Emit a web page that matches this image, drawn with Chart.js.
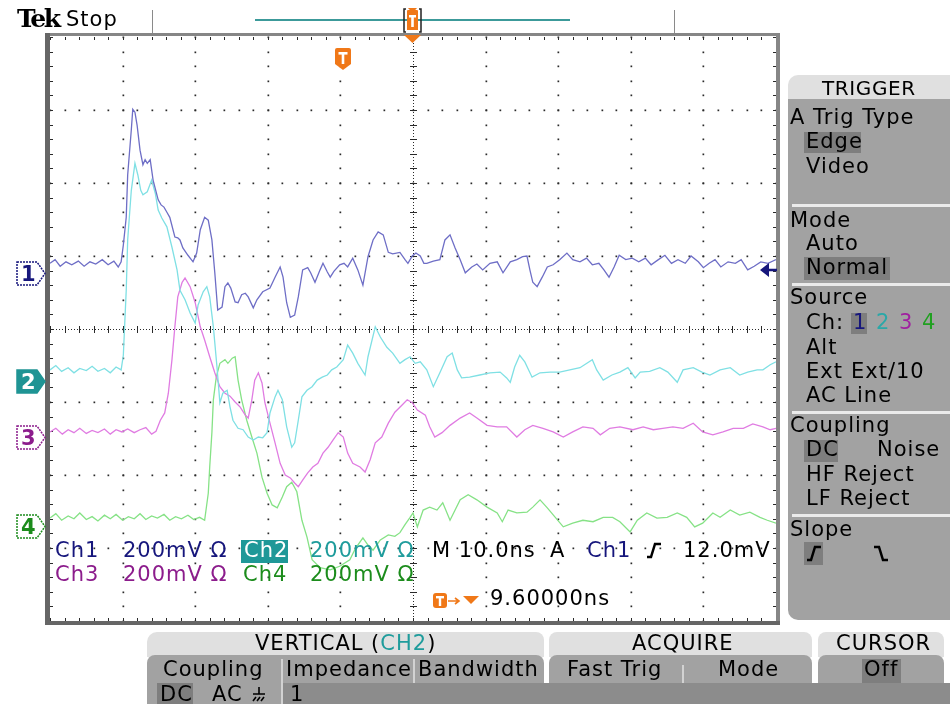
<!DOCTYPE html>
<html>
<head>
<meta charset="utf-8">
<script src="https://cdn.jsdelivr.net/npm/chart.js@4"></script>
<style>
html, body { margin: 0; padding: 0; background: #fff; }
#scope { position: relative; width: 950px; height: 704px; overflow: hidden; background: #fff; font-family: "DejaVu Sans", sans-serif; }
#scope canvas { position: absolute; left: 0; top: 0; }
.t { position: absolute; font-size: 21px; line-height: 21px; letter-spacing: 1px; white-space: pre; color: #000; }
.blk { position: absolute; }
.hl { position: absolute; background: #7e7e7e; }
.sep { position: absolute; background: #ebebeb; height: 3px; left: 792px; width: 158px; }
.vsep { position: absolute; background: #d2d2d2; width: 2px; }
.c1 { color: #16167c; } .c2 { color: #1f9c9c; } .c3 { color: #8c1c8c; } .c4 { color: #1c8c1c; }
svg { position: absolute; overflow: visible; }
</style>
</head>
<body>
<div id="scope">
<canvas id="scope-canvas" width="950" height="704"></canvas>

<!-- top status bar -->
<div class="t" style="left:17px;top:6px;font-family:'DejaVu Serif',serif;font-weight:bold;font-size:25px;line-height:25px;letter-spacing:-2.5px;">Tek</div>
<div class="t" style="left:66px;top:9px;">Stop</div>
<div class="blk" style="left:152px;top:10px;width:1px;height:23px;background:#8a8a8a;"></div>
<div class="blk" style="left:674px;top:10px;width:1px;height:23px;background:#8a8a8a;"></div>
<div class="blk" style="left:255px;top:19px;width:315px;height:2px;background:#3c9a9a;"></div>
<svg style="left:403px;top:8px;" width="19" height="25">
  <path d="M3,1 H1 V24 H3 M16,1 H18 V24 H16" fill="none" stroke="#222" stroke-width="1.5"/>
  <path d="M4,3 Q4,2 5,2 H14 Q15,2 15,3 V22 H4 Z" fill="#f07818"/>
  <path d="M5,0 H14 L9.5,5 Z" fill="#f07818"/>
  <rect x="6" y="7" width="7" height="2.5" fill="#fff"/><rect x="8.2" y="7" width="2.6" height="12" fill="#fff"/>
</svg>
<svg style="left:404px;top:35px;" width="17" height="9"><path d="M0,0 H17 L8.5,8 Z" fill="#f07818"/></svg>
<svg style="left:334px;top:47px;" width="18" height="24">
  <path d="M1,3 Q1,1 3,1 H15 Q17,1 17,3 V17 L9,23 L1,17 Z" fill="#f07818"/>
  <rect x="4.5" y="5" width="9" height="2.6" fill="#fff"/><rect x="7.7" y="5" width="2.6" height="12" fill="#fff"/>
</svg>

<!-- channel ground markers -->
<svg style="left:16px;top:261px;" width="32" height="26"><path d="M1,1 H21 L29,12.5 L21,24 H1 Z" fill="#fff" stroke="#16167c" stroke-width="1.5" stroke-dasharray="2 1"/></svg>
<div class="t c1" style="left:21px;top:264px;font-weight:bold;letter-spacing:0;">1</div>
<svg style="left:16px;top:369px;" width="32" height="26"><path d="M1,1 H21 L29,12.5 L21,24 H1 Z" fill="#1f9494" stroke="#1f9494" stroke-width="1.5"/></svg>
<div class="t" style="left:21px;top:372px;font-weight:bold;letter-spacing:0;color:#fff;">2</div>
<svg style="left:16px;top:425px;" width="32" height="26"><path d="M1,1 H21 L29,12.5 L21,24 H1 Z" fill="#fff" stroke="#8c1c8c" stroke-width="1.5" stroke-dasharray="2 1"/></svg>
<div class="t c3" style="left:21px;top:428px;font-weight:bold;letter-spacing:0;">3</div>
<svg style="left:16px;top:514px;" width="32" height="26"><path d="M1,1 H21 L29,12.5 L21,24 H1 Z" fill="#fff" stroke="#1c8c1c" stroke-width="1.5" stroke-dasharray="2 1"/></svg>
<div class="t c4" style="left:21px;top:517px;font-weight:bold;letter-spacing:0;">4</div>

<!-- trigger level arrow -->
<svg style="left:760px;top:263px;" width="17" height="14"><path d="M0,7 L9,0 L9,14 Z M9,5.8 H17 V8.2 H9 Z" fill="#16167c"/></svg>

<!-- readouts inside the graticule -->
<div class="t c1" style="left:55px;top:540px;">Ch1</div>
<div class="t c1" style="left:123px;top:540px;">200mV Ω</div>
<div class="blk" style="left:241px;top:540px;width:47px;height:23px;background:#1f9898;"></div>
<div class="t" style="left:244px;top:540px;color:#fff;">Ch2</div>
<div class="t c2" style="left:310px;top:540px;">200mV Ω</div>
<div class="t" style="left:432px;top:540px;">M 10.0ns</div>
<div class="t" style="left:550px;top:540px;">A</div>
<div class="t c1" style="left:587px;top:540px;">Ch1</div>
<svg style="left:646px;top:542px;" width="16" height="16"><path d="M1,15 H5 L9,2 H15" fill="none" stroke="#000" stroke-width="2.5"/></svg>
<div class="t" style="left:683px;top:540px;">12.0mV</div>
<div class="t c3" style="left:55px;top:564px;">Ch3</div>
<div class="t c3" style="left:123px;top:564px;">200mV Ω</div>
<div class="t c4" style="left:243px;top:564px;">Ch4</div>
<div class="t c4" style="left:310px;top:564px;">200mV Ω</div>
<svg style="left:433px;top:593px;" width="48" height="16">
  <rect x="0" y="0" width="14" height="15" rx="3" fill="#f07818"/>
  <rect x="3" y="3" width="8" height="2.4" fill="#fff"/><rect x="5.8" y="3" width="2.4" height="10" fill="#fff"/>
  <path d="M15,8 H26 M22,5 L26,8 L22,11" fill="none" stroke="#f07818" stroke-width="1.6"/>
  <path d="M30,3 H46 L38,11 Z" fill="#f07818"/>
</svg>
<div class="t" style="left:490px;top:588px;">9.60000ns</div>

<!-- trigger side menu -->
<div class="blk" style="left:788px;top:75px;width:162px;height:24px;background:#e0e0e0;border-top-left-radius:10px;"></div>
<div class="blk" style="left:788px;top:99px;width:162px;height:521px;background:#a2a2a2;border-bottom-left-radius:10px;"></div>
<div class="sep" style="top:204px;"></div>
<div class="sep" style="top:283px;"></div>
<div class="sep" style="top:411px;"></div>
<div class="sep" style="top:514px;"></div>
<div class="t" style="left:822px;top:78px;font-size:20px;line-height:20px;letter-spacing:0.6px;">TRIGGER</div>
<div class="t" style="left:790px;top:107px;">A Trig Type</div>
<div class="hl" style="left:804px;top:132px;width:57px;height:21px;"></div>
<div class="t" style="left:806px;top:131px;">Edge</div>
<div class="t" style="left:806px;top:156px;">Video</div>
<div class="t" style="left:790px;top:210px;">Mode</div>
<div class="t" style="left:806px;top:233px;">Auto</div>
<div class="hl" style="left:804px;top:257px;width:86px;height:23px;"></div>
<div class="t" style="left:806px;top:257px;">Normal</div>
<div class="t" style="left:790px;top:287px;">Source</div>
<div class="t" style="left:806px;top:312px;">Ch:</div>
<div class="hl" style="left:851px;top:313px;width:16px;height:21px;"></div>
<div class="t c1" style="left:853px;top:312px;">1</div>
<div class="t" style="left:876px;top:312px;color:#2aa8a8;">2</div>
<div class="t" style="left:899px;top:312px;color:#a020a0;">3</div>
<div class="t" style="left:922px;top:312px;color:#20a020;">4</div>
<div class="t" style="left:806px;top:337px;">Alt</div>
<div class="t" style="left:806px;top:361px;">Ext</div>
<div class="t" style="left:851px;top:361px;">Ext/10</div>
<div class="t" style="left:806px;top:385px;">AC Line</div>
<div class="t" style="left:790px;top:415px;">Coupling</div>
<div class="hl" style="left:804px;top:440px;width:34px;height:22px;"></div>
<div class="t" style="left:806px;top:439px;">DC</div>
<div class="t" style="left:877px;top:439px;">Noise</div>
<div class="t" style="left:806px;top:464px;">HF Reject</div>
<div class="t" style="left:806px;top:488px;">LF Reject</div>
<div class="t" style="left:790px;top:519px;">Slope</div>
<div class="hl" style="left:804px;top:542px;width:19px;height:23px;"></div>
<svg style="left:806px;top:545px;" width="16" height="16"><path d="M1,15 H5 L9,2 H15" fill="none" stroke="#000" stroke-width="2.5"/></svg>
<svg style="left:873px;top:545px;" width="16" height="16"><path d="M1,2 H6 L10,15 H15" fill="none" stroke="#000" stroke-width="2.5"/></svg>

<!-- bottom menu -->
<div class="blk" style="left:147px;top:632px;width:397px;height:25px;background:#e0e0e0;border-radius:10px 8px 0 0;"></div>
<div class="blk" style="left:147px;top:655px;width:397px;height:28px;background:#a2a2a2;border-radius:8px 8px 0 0;"></div>
<div class="blk" style="left:549px;top:632px;width:263px;height:25px;background:#e0e0e0;border-radius:8px 8px 0 0;"></div>
<div class="blk" style="left:549px;top:655px;width:263px;height:28px;background:#a2a2a2;border-radius:8px 8px 0 0;"></div>
<div class="blk" style="left:818px;top:632px;width:126px;height:25px;background:#e0e0e0;border-radius:8px 8px 0 0;"></div>
<div class="blk" style="left:818px;top:655px;width:126px;height:28px;background:#a2a2a2;border-radius:8px 8px 0 0;"></div>
<div class="blk" style="left:147px;top:683px;width:803px;height:21px;background:#8c8c8c;"></div>
<div class="blk" style="left:147px;top:683px;width:134px;height:21px;background:#a2a2a2;"></div>
<div class="t" style="left:255px;top:633px;">VERTICAL (<span class="c2">CH2</span>)</div>
<div class="t" style="left:632px;top:633px;">ACQUIRE</div>
<div class="t" style="left:836px;top:633px;">CURSOR</div>
<div class="t" style="left:163px;top:659px;">Coupling</div>
<div class="vsep" style="left:281px;top:659px;height:45px;"></div>
<div class="t" style="left:286px;top:659px;">Impedance</div>
<div class="vsep" style="left:413px;top:659px;height:24px;"></div>
<div class="t" style="left:418px;top:659px;">Bandwidth</div>
<div class="t" style="left:567px;top:659px;">Fast Trig</div>
<div class="vsep" style="left:682px;top:665px;height:18px;"></div>
<div class="t" style="left:718px;top:659px;">Mode</div>
<div class="hl" style="left:862px;top:659px;width:39px;height:24px;"></div>
<div class="t" style="left:864px;top:659px;">Off</div>
<div class="hl" style="left:157px;top:683px;width:36px;height:21px;"></div>
<div class="t" style="left:160px;top:684px;">DC</div>
<div class="t" style="left:212px;top:684px;">AC</div>
<svg style="left:252px;top:686px;" width="14" height="16"><path d="M7,1 V8 M1,8 H13 M4,11 L1,15 M8,11 L5,15 M12,11 L9,15" fill="none" stroke="#000" stroke-width="1.6"/></svg>
<div class="t" style="left:290px;top:684px;">1</div>
</div>

<script>
// 10 divisions across at 10.0ns/div, 8 divisions tall; traces in screen divisions from centre
const TIME_MIN = 0;
const TIME_MAX = 100;
const DIV_MIN = -4;
const DIV_MAX = 4;

const CHANNELS = [
    { key: 'ch1', label: 'Ch1', color: '#6e6ec6' },
    { key: 'ch2', label: 'Ch2', color: '#7fe0e4' },
    { key: 'ch3', label: 'Ch3', color: '#e07ce2' },
    { key: 'ch4', label: 'Ch4', color: '#86e286' }
];

// [time ns, position div]
const ch1Trace = [
    [0, 0.90], [0.7, 0.95], [1.4, 0.86], [2.2, 0.92], [3.0, 0.88], [3.9, 0.93], [4.7, 0.86], [5.5, 0.92],
    [6.3, 0.89], [7.2, 0.95], [8.0, 0.88], [8.8, 0.93], [9.4, 0.85], [9.8, 0.92], [10.1, 1.15], [10.5, 1.53],
    [10.7, 2.11], [11.2, 2.73], [11.4, 3.01], [11.7, 2.97], [12.0, 2.79], [12.4, 2.45], [12.8, 2.25], [13.1, 2.32],
    [13.4, 2.27], [13.8, 2.32], [14.2, 2.04], [14.9, 1.77], [15.3, 1.70], [15.7, 1.67], [16.1, 1.60], [16.5, 1.53],
    [17.2, 1.26], [17.6, 1.25], [17.9, 1.22], [18.3, 1.11], [19.0, 1.01], [19.7, 0.92], [20.2, 1.04], [20.7, 1.36],
    [21.3, 1.53], [21.8, 1.49], [22.3, 1.22], [22.7, 0.77], [23.1, 0.26], [23.7, 0.30], [24.1, 0.58], [24.5, 0.63],
    [24.9, 0.56], [25.5, 0.37], [25.9, 0.36], [26.4, 0.47], [26.9, 0.49], [27.3, 0.44], [28.0, 0.29], [28.5, 0.40],
    [29.3, 0.51], [30.3, 0.56], [31.0, 0.71], [31.7, 0.85], [32.1, 0.71], [32.6, 0.36], [33.1, 0.16], [33.7, 0.19],
    [34.2, 0.44], [34.8, 0.81], [35.5, 0.84], [35.9, 0.77], [36.5, 0.64], [37.2, 0.81], [37.6, 0.90], [38.2, 0.78],
    [38.6, 0.71], [39.1, 0.79], [39.9, 0.88], [40.5, 0.90], [41.0, 0.85], [41.7, 0.97], [42.4, 0.81], [43.1, 0.60],
    [43.8, 0.99], [44.5, 1.22], [45.2, 1.33], [45.9, 1.29], [46.6, 1.05], [47.2, 1.03], [48.2, 1.05], [48.9, 0.95],
    [49.3, 0.90], [49.9, 1.00], [50.4, 1.04], [51.0, 1.00], [51.5, 0.90], [51.9, 0.90], [52.8, 0.93], [53.7, 0.95],
    [54.4, 1.22], [55.1, 1.29], [55.8, 1.11], [56.5, 0.95], [57.2, 0.77], [58.1, 0.85], [58.8, 0.89], [59.6, 0.81],
    [60.6, 0.90], [61.6, 0.92], [62.4, 0.77], [63.4, 0.92], [64.3, 0.95], [65.1, 0.99], [65.7, 1.00], [66.1, 0.81],
    [66.5, 0.64], [67.1, 0.58], [67.8, 0.71], [68.5, 0.85], [69.3, 0.88], [70.2, 0.95], [71.2, 1.04], [72.0, 0.95],
    [73.0, 0.92], [73.9, 0.97], [74.7, 0.88], [75.6, 0.90], [76.3, 0.81], [77.0, 0.71], [77.7, 0.85], [78.4, 1.01],
    [79.3, 0.95], [80.2, 0.97], [81.1, 0.92], [82.0, 0.97], [82.8, 0.88], [83.8, 0.95], [84.7, 1.01], [85.6, 0.90],
    [86.5, 0.95], [87.5, 0.90], [88.3, 1.00], [89.3, 0.92], [90.0, 0.84], [90.8, 0.90], [91.6, 0.95], [92.4, 0.85],
    [93.4, 0.92], [94.4, 0.90], [95.2, 0.95], [96.1, 0.81], [97.0, 0.86], [97.9, 0.92], [98.9, 0.90], [100, 0.95]
];

const ch2Trace = [
    [0, -0.56], [0.8, -0.50], [1.6, -0.58], [2.5, -0.53], [3.3, -0.60], [4.1, -0.54], [5.0, -0.57], [5.8, -0.51],
    [6.6, -0.58], [7.5, -0.54], [8.3, -0.60], [9.1, -0.52], [9.8, -0.56], [10.1, -0.36], [10.5, 0.53], [10.7, 1.22],
    [11.2, 1.90], [11.7, 2.27], [12.1, 2.11], [12.5, 1.90], [12.8, 1.84], [13.4, 1.88], [14.0, 2.04], [14.5, 1.86],
    [14.9, 1.63], [15.4, 1.52], [16.1, 1.40], [16.8, 1.12], [17.5, 0.81], [17.9, 0.53], [18.6, 0.40], [19.3, 0.22],
    [20.0, 0.08], [20.4, 0.33], [21.1, 0.51], [21.6, 0.58], [22.0, 0.44], [22.5, 0.03], [23.0, -0.52], [23.4, -1.01],
    [23.8, -0.88], [24.4, -0.84], [24.8, -1.07], [25.2, -1.25], [25.9, -1.36], [26.6, -1.38], [27.3, -1.48], [28.0, -1.52],
    [28.7, -1.48], [29.3, -1.49], [29.9, -1.42], [30.3, -1.15], [31.0, -0.93], [31.4, -0.84], [32.0, -0.97], [32.6, -1.34],
    [33.3, -1.62], [33.7, -1.56], [34.2, -1.25], [34.7, -0.93], [35.4, -0.84], [36.1, -0.79], [36.8, -0.70], [37.5, -0.66],
    [38.2, -0.63], [38.8, -0.56], [39.5, -0.52], [40.4, -0.42], [41.0, -0.22], [41.7, -0.33], [42.4, -0.47], [43.4, -0.63],
    [43.8, -0.38], [44.8, 0.03], [45.5, -0.11], [46.4, -0.25], [47.2, -0.33], [48.2, -0.47], [48.9, -0.42], [49.6, -0.38],
    [50.3, -0.47], [51.0, -0.45], [51.9, -0.56], [52.8, -0.79], [53.7, -0.60], [54.7, -0.38], [55.4, -0.33], [56.1, -0.56],
    [56.7, -0.67], [57.8, -0.66], [59.2, -0.63], [60.6, -0.60], [62.0, -0.59], [62.9, -0.67], [63.4, -0.73], [64.0, -0.52],
    [64.7, -0.36], [65.4, -0.45], [66.4, -0.66], [67.5, -0.60], [68.9, -0.59], [70.2, -0.59], [71.6, -0.56], [73.0, -0.53],
    [74.7, -0.42], [75.3, -0.56], [76.2, -0.70], [77.4, -0.63], [78.5, -0.59], [79.6, -0.53], [80.6, -0.67], [81.3, -0.59],
    [82.6, -0.58], [84.0, -0.53], [85.1, -0.59], [86.4, -0.73], [87.2, -0.56], [88.6, -0.53], [89.8, -0.59], [90.9, -0.63],
    [92.3, -0.56], [93.7, -0.53], [95.0, -0.63], [96.1, -0.59], [97.4, -0.56], [98.2, -0.56], [99.2, -0.49], [100, -0.45]
];

const ch3Trace = [
    [0, -1.41], [0.8, -1.36], [1.7, -1.44], [2.5, -1.38], [3.3, -1.42], [4.1, -1.36], [5.0, -1.43], [5.8, -1.39],
    [6.6, -1.42], [7.5, -1.37], [8.3, -1.44], [9.1, -1.38], [9.9, -1.41], [10.7, -1.37], [11.6, -1.42], [12.4, -1.38],
    [13.2, -1.35], [14.0, -1.44], [14.6, -1.40], [15.2, -1.25], [15.8, -1.15], [16.3, -0.88], [16.8, -0.42], [17.2, 0.03],
    [17.6, 0.44], [18.2, 0.64], [18.6, 0.70], [19.3, 0.58], [20.0, 0.36], [20.7, 0.03], [21.3, -0.15], [22.0, -0.38],
    [22.7, -0.60], [23.4, -0.79], [24.1, -0.88], [24.8, -0.92], [25.5, -1.00], [26.2, -1.07], [26.9, -1.18], [27.3, -1.22],
    [27.8, -0.97], [28.2, -0.70], [28.7, -0.60], [29.2, -0.74], [29.6, -1.01], [30.3, -1.29], [31.0, -1.56], [31.7, -1.84],
    [32.4, -2.00], [33.1, -2.04], [33.7, -2.11], [34.2, -2.16], [34.8, -2.07], [35.5, -1.97], [36.2, -1.89], [36.9, -1.84],
    [37.6, -1.70], [38.3, -1.62], [39.0, -1.52], [39.7, -1.42], [40.4, -1.48], [41.0, -1.70], [41.7, -1.84], [42.7, -1.89],
    [43.4, -1.96], [44.1, -1.79], [44.8, -1.56], [45.7, -1.48], [46.6, -1.29], [47.5, -1.14], [48.5, -1.04], [49.2, -0.97],
    [49.9, -1.01], [50.6, -1.11], [51.7, -1.18], [52.3, -1.34], [53.0, -1.48], [54.0, -1.42], [55.1, -1.32], [56.5, -1.22],
    [57.8, -1.15], [58.8, -1.22], [60.2, -1.32], [61.6, -1.34], [62.9, -1.34], [64.3, -1.48], [65.4, -1.38], [66.5, -1.32],
    [67.9, -1.36], [69.3, -1.41], [70.7, -1.48], [72.0, -1.41], [73.4, -1.34], [74.8, -1.36], [75.8, -1.45], [77.1, -1.36],
    [78.5, -1.34], [80.3, -1.38], [81.7, -1.34], [83.1, -1.38], [84.4, -1.36], [85.8, -1.34], [87.2, -1.36], [88.6, -1.29],
    [89.9, -1.41], [91.3, -1.45], [92.7, -1.41], [94.1, -1.36], [95.5, -1.36], [96.8, -1.30], [98.2, -1.34], [99.2, -1.38],
    [100, -1.36]
];

const ch4Trace = [
    [0, -2.59], [0.8, -2.53], [1.6, -2.62], [2.5, -2.56], [3.3, -2.60], [4.1, -2.52], [5.0, -2.61], [5.8, -2.57],
    [6.6, -2.63], [7.5, -2.55], [8.3, -2.60], [9.1, -2.54], [10.0, -2.62], [10.8, -2.57], [11.6, -2.60], [12.4, -2.53],
    [13.2, -2.61], [14.0, -2.56], [14.8, -2.59], [15.7, -2.54], [16.5, -2.62], [17.3, -2.57], [18.1, -2.60], [19.0, -2.55],
    [19.8, -2.61], [20.6, -2.58], [21.3, -2.62], [21.8, -2.25], [22.0, -1.89], [22.3, -1.42], [22.5, -0.97], [22.9, -0.66],
    [23.4, -0.47], [24.1, -0.42], [24.5, -0.47], [25.1, -0.40], [25.5, -0.38], [25.9, -0.70], [26.4, -0.97], [27.1, -1.25],
    [27.8, -1.48], [28.5, -1.70], [29.2, -2.03], [29.9, -2.25], [30.6, -2.41], [31.3, -2.45], [32.0, -2.30], [32.6, -2.16],
    [33.3, -2.10], [34.0, -2.23], [34.7, -2.62], [35.4, -2.85], [36.1, -3.16], [37.2, -3.27], [38.6, -3.30], [39.9, -3.25],
    [41.3, -3.16], [42.1, -3.00], [43.1, -2.86], [43.8, -2.96], [44.5, -3.03], [45.5, -2.89], [46.6, -2.82], [47.5, -2.84],
    [48.2, -2.79], [48.9, -2.68], [49.6, -2.58], [50.0, -2.52], [50.6, -2.71], [51.4, -2.48], [52.3, -2.44], [53.3, -2.48],
    [54.1, -2.38], [55.1, -2.62], [55.8, -2.48], [56.5, -2.34], [57.6, -2.27], [58.8, -2.34], [60.2, -2.44], [61.6, -2.52],
    [62.3, -2.64], [63.1, -2.48], [64.3, -2.52], [65.7, -2.51], [66.5, -2.44], [67.5, -2.34], [68.5, -2.45], [69.6, -2.58],
    [70.7, -2.71], [72.0, -2.66], [73.4, -2.62], [74.8, -2.64], [76.2, -2.58], [77.5, -2.58], [78.5, -2.64], [79.9, -2.78],
    [80.9, -2.62], [82.2, -2.52], [83.6, -2.59], [85.0, -2.58], [86.4, -2.52], [87.7, -2.58], [88.8, -2.71], [89.9, -2.66],
    [91.3, -2.52], [92.3, -2.58], [93.7, -2.48], [95.0, -2.55], [96.4, -2.51], [97.8, -2.58], [98.8, -2.62], [100, -2.66]
];

const TRACES = { ch1: ch1Trace, ch2: ch2Trace, ch3: ch3Trace, ch4: ch4Trace };

// dotted Tek graticule: dots every 1/5 div on the major lines, ticked centre cross and edges
const graticule = {
    id: 'graticule',
    beforeDatasetsDraw(chart) {
        const { ctx, chartArea: a, scales: { x, y } } = chart;
        const xs = [];
        const ys = [];
        for (let i = 0; i <= 50; i++) xs.push(Math.round(x.getPixelForValue(TIME_MIN + i * 2)));
        for (let j = 0; j <= 40; j++) ys.push(Math.round(y.getPixelForValue(DIV_MIN + j * 0.2)));

        ctx.save();
        ctx.fillStyle = '#2a2a2a';
        for (let i = 5; i < 50; i += 5) {
            if (i === 25) continue;
            ys.forEach(py => ctx.fillRect(xs[i] - 0.5, py - 0.5, 1.7, 1.7));
        }
        for (let j = 5; j < 40; j += 5) {
            if (j === 20) continue;
            xs.forEach(px => ctx.fillRect(px - 0.5, ys[j] - 0.5, 1.7, 1.7));
        }

        const cx = xs[25];
        const cy = ys[20];
        ctx.strokeStyle = '#2a2a2a';
        ctx.lineWidth = 1;
        ctx.setLineDash([1, 2]);
        ctx.beginPath();
        ctx.moveTo(a.left, cy + 0.5);
        ctx.lineTo(a.right, cy + 0.5);
        ctx.moveTo(cx + 0.5, a.top);
        ctx.lineTo(cx + 0.5, a.bottom);
        ctx.stroke();
        ctx.setLineDash([]);

        ctx.beginPath();
        xs.forEach(px => {
            ctx.moveTo(px + 0.5, cy - 3);
            ctx.lineTo(px + 0.5, cy + 4);
            ctx.moveTo(px + 0.5, a.top);
            ctx.lineTo(px + 0.5, a.top + 3);
            ctx.moveTo(px + 0.5, a.bottom);
            ctx.lineTo(px + 0.5, a.bottom - 3);
        });
        ys.forEach(py => {
            ctx.moveTo(cx - 3, py + 0.5);
            ctx.lineTo(cx + 4, py + 0.5);
            ctx.moveTo(a.left, py + 0.5);
            ctx.lineTo(a.left + 3, py + 0.5);
            ctx.moveTo(a.right, py + 0.5);
            ctx.lineTo(a.right - 3, py + 0.5);
        });
        ctx.stroke();
        ctx.restore();
    },
    afterDatasetsDraw(chart) {
        const { ctx, chartArea: a } = chart;
        ctx.save();
        ctx.fillStyle = '#868686';
        ctx.fillRect(a.left - 4, a.top - 4, a.right - a.left + 8, 3);
        ctx.fillRect(a.right, a.top - 4, 4, a.bottom - a.top + 8);
        ctx.fillStyle = '#666';
        ctx.fillRect(a.left - 5, a.top - 4, 5, a.bottom - a.top + 8);
        ctx.fillRect(a.left - 5, a.bottom, a.right - a.left + 9, 4);
        ctx.restore();
    }
};

function buildDatasets() {
    return CHANNELS.map(ch => ({
        label: ch.label,
        data: TRACES[ch.key].map(([t, v]) => ({ x: t, y: v })),
        borderColor: ch.color,
        backgroundColor: 'transparent',
        borderWidth: 1.3,
        pointRadius: 0,
        tension: 0,
        fill: false
    }));
}

new Chart(document.getElementById('scope-canvas'), {
    type: 'line',
    data: { datasets: buildDatasets() },
    options: {
        responsive: false,
        animation: false,
        layout: { padding: { left: 50, top: 37, right: 174, bottom: 83 } },
        scales: {
            x: { type: 'linear', min: TIME_MIN, max: TIME_MAX, display: false },
            y: { type: 'linear', min: DIV_MIN, max: DIV_MAX, display: false }
        },
        plugins: {
            legend: { display: false },
            tooltip: { enabled: false }
        }
    },
    plugins: [graticule]
});
</script>
</body>
</html>
